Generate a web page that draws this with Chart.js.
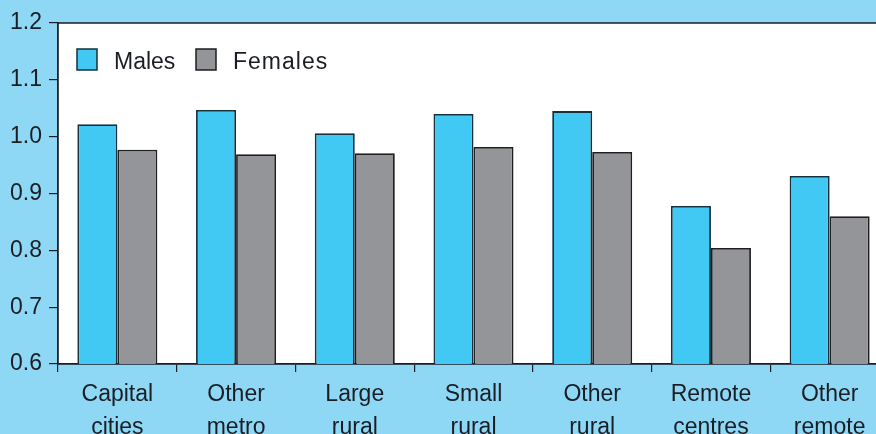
<!DOCTYPE html>
<html>
<head>
<meta charset="utf-8">
<script src="https://cdn.jsdelivr.net/npm/chart.js@4.4.1/dist/chart.umd.min.js"></script>
<style>
  html, body { margin: 0; padding: 0; overflow: hidden; background: #8ed8f6; }
  #wrap { width: 900px; height: 434px; }
</style>
</head>
<body>
<div id="wrap"><canvas id="chart" width="900" height="434"></canvas></div>
<script>
// categories (two-line labels)
const categories = [
  ["Capital", "cities"],
  ["Other", "metro"],
  ["Large", "rural"],
  ["Small", "rural"],
  ["Other", "rural"],
  ["Remote", "centres"],
  ["Other", "remote"]
];
const males   = [1.022, 1.047, 1.006, 1.040, 1.045, 0.878, 0.931];
const females = [0.977, 0.969, 0.971, 0.982, 0.973, 0.804, 0.860];
const yTicks  = [0.6, 0.7, 0.8, 0.9, 1.0, 1.1, 1.2];

const ink = "#1a1e24";
const fontFamily = "'Liberation Sans', Arial, sans-serif";

// legend drawn inside the plot area, top left
const insideLegend = {
  id: "insideLegend",
  afterDraw(chart) {
    const ctx = chart.ctx;
    const area = chart.chartArea;
    const items = [
      { ds: chart.data.datasets[0], x: 77, spacing: "0px" },
      { ds: chart.data.datasets[1], x: 196, spacing: "1px" }
    ];
    ctx.save();
    ctx.font = "23px " + fontFamily;
    ctx.textBaseline = "alphabetic";
    items.forEach(it => {
      ctx.fillStyle = it.ds.backgroundColor;
      ctx.fillRect(it.x, area.top + 26, 20, 21);
      ctx.lineWidth = 1.5;
      ctx.strokeStyle = it.ds.borderColor;
      ctx.strokeRect(it.x, area.top + 26, 20, 21);
      ctx.fillStyle = ink;
      ctx.letterSpacing = it.spacing;
      ctx.fillText(it.ds.label, it.x + 37, area.top + 46);
    });
    ctx.letterSpacing = "0px";
    // top frame line
    ctx.beginPath();
    ctx.moveTo(area.left, area.top);
    ctx.lineTo(area.right, area.top);
    ctx.lineWidth = 1.5;
    ctx.strokeStyle = ink;
    ctx.stroke();
    ctx.restore();
  }
};

const chartBg = {
  id: "chartBg",
  beforeDraw(chart) {
    const { ctx, chartArea: a } = chart;
    ctx.save();
    ctx.fillStyle = "#ffffff";
    ctx.fillRect(a.left, a.top, a.right - a.left, a.bottom - a.top);
    ctx.restore();
  }
};

new Chart(document.getElementById("chart"), {
  type: "bar",
  data: {
    labels: categories,
    datasets: [
      { label: "Males", data: males, backgroundColor: "#41c8f3", borderColor: "#16303c", borderWidth: 1.8 },
      { label: "Females", data: females, backgroundColor: "#939598", borderColor: "#1e1e1e", borderWidth: 1.8 }
    ]
  },
  options: {
    responsive: false,
    animation: false,
    categoryPercentage: 0.674,
    barPercentage: 1.0,
    layout: { padding: { top: 23, right: 11, left: 0, bottom: 0 } },
    plugins: {
      legend: { display: false },
      tooltip: { enabled: false }
    },
    scales: {
      x: {
        afterFit(scale) { scale.height = 70; },
        grid: { drawOnChartArea: false, tickLength: 8, color: ink, lineWidth: 1.2, offset: true },
        border: { color: ink, width: 1.8 },
        ticks: {
          color: ink,
          padding: 7,
          maxRotation: 0,
          autoSkip: false,
          font: { family: fontFamily, size: 23, lineHeight: 1.4 }
        }
      },
      y: {
        min: 0.6,
        max: 1.2,
        afterFit(scale) { scale.width = 58; },
        afterBuildTicks(scale) { scale.ticks = yTicks.map(v => ({ value: v })); },
        grid: { drawOnChartArea: false, tickLength: 9, color: ink, lineWidth: 1.2 },
        border: { color: ink, width: 1.8 },
        ticks: {
          color: ink,
          padding: 7,
          callback: v => v.toFixed(1),
          font: { family: fontFamily, size: 23 }
        }
      }
    }
  },
  plugins: [chartBg, insideLegend]
});
</script>
</body>
</html>
